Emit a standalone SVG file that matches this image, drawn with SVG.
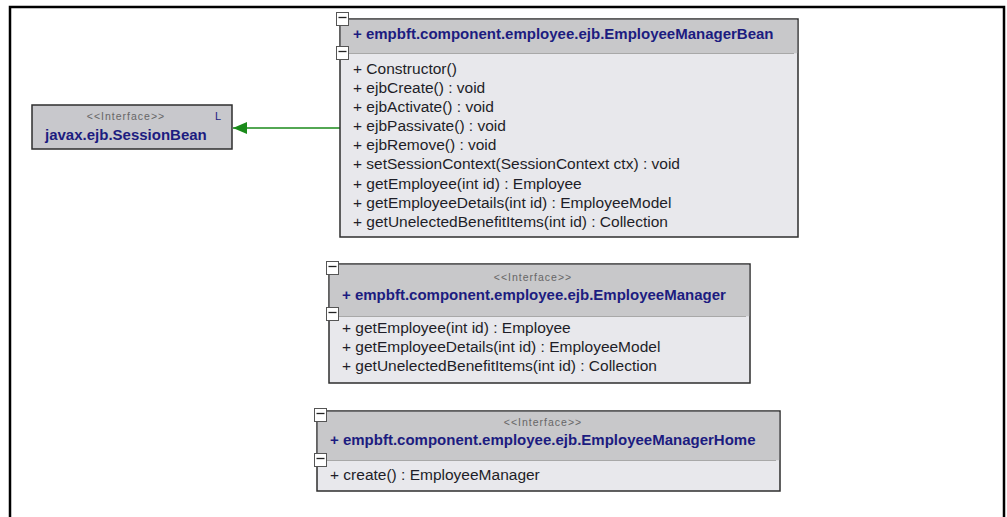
<svg xmlns="http://www.w3.org/2000/svg" width="1007" height="517" viewBox="0 0 1007 517">
<defs>
<style>
.box{fill:#e8e8ec;stroke:#2e2e2e;stroke-width:1.5}
.hdr{fill:#c8c8ca}
.sep{stroke:#a8a8a8;stroke-width:1.2}
.title{font-family:"Liberation Sans",Arial,sans-serif;font-weight:bold;font-size:15px;fill:#1c1c80}
.meth{font-family:"Liberation Sans",Arial,sans-serif;font-size:15.5px;fill:#1e1e28}
.ster{font-family:"Liberation Sans",Arial,sans-serif;font-size:10.5px;fill:#666;letter-spacing:1px}
.sq{fill:#fff;stroke:#555;stroke-width:1}
.dash{stroke:#222;stroke-width:1.3}
</style>
<marker id="tri" viewBox="0 0 14 12" refX="14" refY="6" markerWidth="14" markerHeight="12" markerUnits="userSpaceOnUse" orient="auto">
<path d="M0,0 L14,6 L0,12 Z" fill="#1a8a1a"/>
</marker>
</defs>
<rect width="1007" height="517" fill="#fff"/>
<path d="M10,517 V7 H1004 V517" fill="none" stroke="#000" stroke-width="2.5"/>

<g id="connectors">
<line x1="340" y1="128" x2="233" y2="128" stroke="#1a8a1a" stroke-width="1.3" marker-end="url(#tri)"/>
</g>

<g id="SessionBean">
<rect x="32" y="105" width="200" height="44" fill="#c8c8cc" stroke="#2e2e2e" stroke-width="1.5"/>
<text class="ster" x="126" y="120" text-anchor="middle">&lt;&lt;Interface&gt;&gt;</text>
<text x="215" y="120" font-family="'Liberation Sans',Arial,sans-serif" font-size="11px" fill="#1c1c80">L</text>
<text class="title" x="45" y="140">javax.ejb.SessionBean</text>
</g>

<g id="EmployeeManagerBean">
<rect class="box" x="340" y="19" width="458" height="218"/>
<rect class="hdr" x="340.8" y="19.8" width="456.4" height="33.5"/>
<line class="sep" x1="341" y1="53.5" x2="794" y2="53.5"/>
<rect class="sq" x="336.5" y="12.5" width="12" height="13"/>
<line class="dash" x1="338.5" y1="17.5" x2="346.5" y2="17.5"/>
<rect class="sq" x="336.5" y="46.5" width="12" height="13"/>
<line class="dash" x1="338.5" y1="51.5" x2="346.5" y2="51.5"/>
<text class="title" x="353" y="39">+ empbft.component.employee.ejb.EmployeeManagerBean</text>
<text class="meth" x="353" y="74">+ Constructor()</text>
<text class="meth" x="353" y="93">+ ejbCreate() : void</text>
<text class="meth" x="353" y="112">+ ejbActivate() : void</text>
<text class="meth" x="353" y="131">+ ejbPassivate() : void</text>
<text class="meth" x="353" y="150">+ ejbRemove() : void</text>
<text class="meth" x="353" y="169">+ setSessionContext(SessionContext ctx) : void</text>
<text class="meth" x="353" y="188.5">+ getEmployee(int id) : Employee</text>
<text class="meth" x="353" y="208">+ getEmployeeDetails(int id) : EmployeeModel</text>
<text class="meth" x="353" y="227">+ getUnelectedBenefitItems(int id) : Collection</text>
</g>

<g id="EmployeeManager">
<rect class="box" x="329" y="264" width="421" height="119"/>
<rect class="hdr" x="329.8" y="264.8" width="419.4" height="51.5"/>
<line class="sep" x1="330" y1="316.5" x2="746" y2="316.5"/>
<rect class="sq" x="326.5" y="261.5" width="12" height="13"/>
<line class="dash" x1="328.5" y1="266.5" x2="336.5" y2="266.5"/>
<rect class="sq" x="326.5" y="307.5" width="12" height="13"/>
<line class="dash" x1="328.5" y1="312.5" x2="336.5" y2="312.5"/>
<text class="ster" x="533" y="281" text-anchor="middle">&lt;&lt;Interface&gt;&gt;</text>
<text class="title" x="342" y="300">+ empbft.component.employee.ejb.EmployeeManager</text>
<text class="meth" x="342" y="333">+ getEmployee(int id) : Employee</text>
<text class="meth" x="342" y="352">+ getEmployeeDetails(int id) : EmployeeModel</text>
<text class="meth" x="342" y="371">+ getUnelectedBenefitItems(int id) : Collection</text>
</g>

<g id="EmployeeManagerHome">
<rect class="box" x="317" y="411" width="463" height="80"/>
<rect class="hdr" x="317.8" y="411.8" width="461.4" height="48.5"/>
<line class="sep" x1="318" y1="460.5" x2="776" y2="460.5"/>
<rect class="sq" x="314.5" y="408.5" width="12" height="13"/>
<line class="dash" x1="316.5" y1="413.5" x2="324.5" y2="413.5"/>
<rect class="sq" x="314.5" y="453.5" width="12" height="13"/>
<line class="dash" x1="316.5" y1="458.5" x2="324.5" y2="458.5"/>
<text class="ster" x="543" y="426" text-anchor="middle">&lt;&lt;Interface&gt;&gt;</text>
<text class="title" x="330" y="445">+ empbft.component.employee.ejb.EmployeeManagerHome</text>
<text class="meth" x="330" y="480">+ create() : EmployeeManager</text>
</g>
</svg>
